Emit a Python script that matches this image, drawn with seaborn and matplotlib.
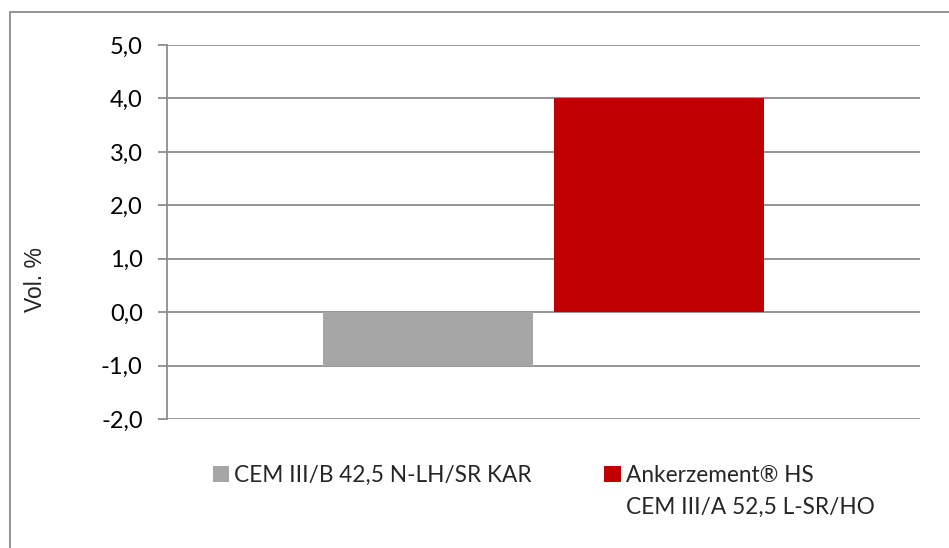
import matplotlib
matplotlib.use("Agg")
import matplotlib.pyplot as plt
import seaborn as sns
import pandas as pd
from matplotlib.lines import Line2D
from matplotlib.ticker import FuncFormatter

# Daten
serien = ["CEM III/B 42,5 N-LH/SR KAR", "Ankerzement® HS\nCEM III/A 52,5 L-SR/HO"]
werte = [-1.0, 4.0]
farben = ["#a6a6a6", "#c00000"]
y_ticks = [-2, -1, 0, 1, 2, 3, 4, 5]

df = pd.DataFrame({"gruppe": ["x", "x"], "serie": serien, "wert": werte})

sns.set_style("white")
plt.rcParams["font.family"] = ["Lato", "DejaVu Sans"]

W, H = 949, 548
fig = plt.figure(figsize=(W / 100, H / 100), dpi=100)
ax = fig.add_axes([167 / W, 1 - 419 / H, (920 - 167) / W, (419 - 45) / H])

sns.barplot(data=df, x="gruppe", y="wert", hue="serie", palette=farben,
            width=0.611, gap=0.087, ax=ax, zorder=3, saturation=1, linewidth=0)

ax.set_xlim(-0.5, 0.5)
ax.set_ylim(-2, 5)
ax.set_yticks(y_ticks)
ax.yaxis.set_major_formatter(FuncFormatter(lambda v, p: f"{v:.1f}".replace(".", ",")))
ax.set_xticks([])
ax.set_xlabel("")
ax.set_ylabel("")
ax.grid(axis="y", color="#8c8c8c", linewidth=1.3, zorder=1)
for s in ["top", "right", "bottom"]:
    ax.spines[s].set_visible(False)
ax.spines["left"].set_color("#8c8c8c")
ax.spines["left"].set_linewidth(1.3)
ax.tick_params(axis="y", length=6.5, width=1.3, color="#8c8c8c", pad=11,
               labelsize=17, labelcolor="black", left=True)

# Achsentitel
fig.text(35 / W, 1 - 280 / H, "Vol. %", rotation=90, ha="center", va="center",
         fontsize=16.5, family=["Liberation Sans", "DejaVu Sans"])

# Legende (zweite Zeile der roten Serie separat, damit das Quadrat oben sitzt)
handles, _ = ax.get_legend_handles_labels()
erste_zeilen = [s.split("\n")[0] for s in serien]
leg = ax.legend(handles, erste_zeilen, loc="upper left", bbox_to_anchor=(213 / W, 1 - 465 / H),
                bbox_transform=fig.transFigure, ncol=2, frameon=False, fontsize=16.3,
                handlelength=0.72, handleheight=0.72, handletextpad=0.22, columnspacing=3.2,
                borderpad=0, borderaxespad=0)
fig.canvas.draw()
bb = leg.get_texts()[1].get_window_extent()
fig.text(bb.x0 / W, (bb.y0 - 32) / H, serien[1].split("\n")[1], fontsize=16.3,
         ha="left", va="bottom")

# Rahmen
fig.add_artist(Line2D([9.5 / W, 9.5 / W], [0, 1 - 12 / H], color="#8c8c8c", lw=1.3,
                      transform=fig.transFigure))
fig.add_artist(Line2D([9.5 / W, 1], [1 - 12 / H, 1 - 12 / H], color="#8c8c8c", lw=1.3,
                      transform=fig.transFigure))

fig.savefig("out.png", dpi=100)
